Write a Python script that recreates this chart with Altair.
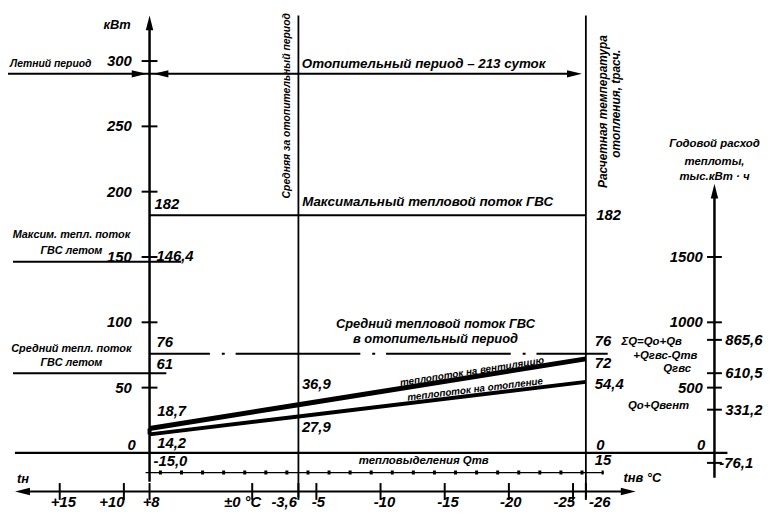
import altair as alt
import pandas as pd

FONT = "Liberation Sans"

# ---------------- scales ----------------
T_DOMAIN = [-40.27, 19.03]   # outdoor temperature, °C (axis runs right-to-left)
Q_DOMAIN = [-43.2, 338.6]    # heat flow, kW
A_DOMAIN = [-432, 3386]      # annual heat consumption, thousand kWh

# ---------------- heat-flow lines ----------------
line_temps = [8, -3.6, -26]
q_heat_vent = [18.7, 36.9, 72]     # heating + ventilation
q_heating = [14.2, 27.9, 54.4]     # heating only

# ---------------- horizontal levels ----------------
axis_h_x1 = [18.49, 17.9]
axis_h_x2 = [-37.03, -29.3]
axis_h_y = [0, -29.5]

solid_h_x1 = [19.03, 8, 18.64, 18.64]
solid_h_x2 = [-25.1, -26, 5.53, 6.69]
solid_h_y = [290.2, 182, 146.4, 61]

dhw_avg_x = [8, -27.7]
dhw_avg_y = 76
emission_x = [8.31, -27.39]
emission_y = -15.0

# ---------------- vertical lines ----------------
vert_x = [-3.6, -26]
vert_y1 = [-34, -34]
vert_y2 = [334.8, 334.8]
kw_axis_x = 8
kw_axis_y = [-22, 329.2]
annual_axis_x = -36.02
annual_axis_y = [-189, 2004]

# ---------------- arrowheads ----------------
arrow_x = [8.81, 7.11, -25.11, 8, 17.9, -29.3, -36.02]
arrow_y = [290.2, 290.2, 290.2, 329.2, -29.5, -29.5, 200.4]
arrow_dir = ["right", "left", "right", "up", "left", "right", "up"]

# ---------------- ticks ----------------
kw_ticks = [50, 100, 150, 200, 250, 300]
kw_tick_labels = ["50", "100", "150", "200", "250", "300"]
t_ticks = [15, 10, 8, 0, -3.6, -5, -10, -15, -20, -25, -26]
t_labels = ["+15", "+10", "+8", "±0 °C", "-3,6", "-5", "-10", "-15", "-20", "-25", "-26"]
t_label_x = [14.71, 10.93, 7.88, 0.75, -2.49, -5.15, -10.31, -15.25, -20.14, -24.31, -27.08]
annual_ticks = [1500, 1000, 865.6, 610.5, 500, 331.2, -76.1]
annual_left_labels = ["1500", "1000", "500", "0"]
annual_left_vals = [1500, 1000, 500, 60]
annual_left_x = [-35.1, -35.1, -35.1, -35.3]
annual_right_labels = ["865,6", "610,5", "331,2", "-76,1"]
annual_right_vals = [865.6, 610.5, 331.2, -76.1]
annual_right_x = [-36.87, -36.87, -36.87, -36.4]

# ---------------- value labels ----------------
num_labels = ["182", "146,4", "76", "61", "18,7", "14,2", "-15,0", "36,9", "27,9",
              "182", "76", "72", "54,4", "0", "15"]
num_x = [7.61, 7.46, 7.46, 7.46, 7.4, 7.4, 7.69, -3.87, -3.87,
         -26.8, -26.7, -26.7, -26.7, -26.8, -26.7]
num_y = [190.9, 150.8, 84.8, 68.2, 31.8, 7.6, -6.1, 53, 19.7,
         181.8, 85.6, 68.9, 53, 6, -5.3]

# ---------------- captions ----------------
cap14 = [("Отопительный период  –  213 суток", -13.36, 297.7),
         ("Максимальный тепловой поток ГВС", -13.67, 192.4)]
cap13 = [("Средний тепловой поток ГВС", -14.28, 98.5),
         ("в отопительный период", -14.28, 87.1)]
cap11 = [("Максим. тепл. поток", 14.09, 166.7), ("ГВС летом", 14.09, 154.5),
         ("Средний тепл. поток", 14.09, 79.5), ("ГВС летом", 14.09, 68.9)]
cap_summer = [("Летний период", 18.87, 297.7)]
cap_unit = [("кВт", 9.46, 327.3)]
cap_emission = [("тепловыделения Qтв", -13.36, -6.1)]
cap_t = [("tн", 18.33, -19.7), ("tнв  °C", -28.93, -18.9)]
cap_annual = [("Годовой расход", -36.02, 236.4), ("теплоты,", -36.02, 222.7),
              ("тыс.кВт · ч", -36.02, 211.4)]
cap_formula_left = [("ΣQ=Qо+Qв", -28.78, 84.8), ("+Qгвс-Qтв", -29.7, 74.2)]
cap_formula_right = [("Qгвс", -34.2, 64.4), ("Qо+Qвент", -34.05, 35.6)]
cap_rot_mid = [("Средняя за отопительный период", -2.68, 265.8)]
cap_rot_right = [("Расчетная температура", -27.32, 261.4), ("отопления, tрасч.", -28.32, 267.4)]
cap_vent = [("теплопоток на вентиляцию", -17.13, 62.2)]
cap_heat = [("теплопоток на отопление", -17.37, 48.6)]

# =================================================================
XS = alt.Scale(domain=T_DOMAIN, reverse=True, nice=False, zero=False)
QS = alt.Scale(domain=Q_DOMAIN, nice=False, zero=False)
AS = alt.Scale(domain=A_DOMAIN, nice=False, zero=False)


def X(f="x"):
    return alt.X(f"{f}:Q", scale=XS, axis=None)


def Y(f="y", scale=QS):
    return alt.Y(f"{f}:Q", scale=scale, axis=None)


def rules_h(x1, x2, y, width, dash=None, dash_offset=None):
    df = pd.DataFrame({"x": x1, "x2": x2, "y": y})
    kw = dict(color="black", strokeWidth=width)
    if dash is not None:
        kw["strokeDash"] = dash
    if dash_offset is not None:
        kw["strokeDashOffset"] = dash_offset
    return alt.Chart(df).mark_rule(**kw).encode(x=X(), x2="x2:Q", y=Y())


def rules_v(x, y1, y2, width, scale=QS):
    df = pd.DataFrame({"x": x, "y": y1, "y2": y2})
    return alt.Chart(df).mark_rule(color="black", strokeWidth=width).encode(
        x=X(), y=Y(scale=scale), y2="y2:Q")


def txt(rows, size, align="left", baseline="middle", angle=0, weight="bold", scale=QS):
    df = pd.DataFrame(rows, columns=["label", "x", "y"])
    return alt.Chart(df).mark_text(
        font=FONT, fontSize=size, fontStyle="italic", fontWeight=weight,
        align=align, baseline=baseline, angle=angle, color="black"
    ).encode(x=X(), y=Y(scale=scale), text="label:N")


layers = []

# axes lines
layers.append(rules_h(axis_h_x1, axis_h_x2, axis_h_y, 2.2))
layers.append(rules_h(solid_h_x1, solid_h_x2, solid_h_y, 2))
layers.append(rules_h([dhw_avg_x[0]], [dhw_avg_x[1]], [dhw_avg_y], 2,
                      dash=[61, 12, 3, 11, 126, 12, 3, 11, 126, 12, 3, 11, 126, 12, 3, 11, 300]))
layers.append(rules_h([emission_x[0]], [emission_x[1]], [emission_y], 1.2))
layers.append(rules_h([emission_x[0]], [emission_x[1]], [emission_y], 4,
                      dash=[3, 18.3], dash_offset=7.8))
layers.append(rules_v(vert_x, vert_y1, vert_y2, 1.8))
layers.append(rules_v([kw_axis_x], [kw_axis_y[0]], [kw_axis_y[1]], 2.5))
layers.append(rules_v([annual_axis_x], [annual_axis_y[0]], [annual_axis_y[1]], 2.5, scale=AS))
layers.append(rules_v([line_temps[0]], [q_heating[0]], [q_heat_vent[0]], 4))

# heat-flow lines
for vals, w in ((q_heat_vent, 5), (q_heating, 4)):
    df = pd.DataFrame({"x": line_temps, "y": vals})
    layers.append(alt.Chart(df).mark_line(color="black", strokeWidth=w, strokeCap="butt").encode(
        x=X(), y=Y()))

# arrowheads
arrow_df = pd.DataFrame({"x": arrow_x, "y": arrow_y, "dir": arrow_dir})
layers.append(alt.Chart(arrow_df).mark_point(filled=True, size=225, color="black", opacity=1,
                                             strokeWidth=0).encode(
    x=X(), y=Y(),
    shape=alt.Shape("dir:N", legend=None, scale=alt.Scale(
        domain=["right", "left", "up"],
        range=["M1,0L-1,-0.5L-1,0.5Z", "M-1,0L1,-0.5L1,0.5Z", "M0,-1L-0.5,1L0.5,1Z"]))))

# ticks
layers.append(alt.Chart(pd.DataFrame({"x": [kw_axis_x] * len(kw_ticks), "y": kw_ticks}))
              .mark_tick(orient="horizontal", size=16, thickness=2, color="black", opacity=1)
              .encode(x=X(), y=Y()))
layers.append(alt.Chart(pd.DataFrame({"x": t_ticks, "y": [axis_h_y[1]] * len(t_ticks)}))
              .mark_tick(orient="vertical", size=17, thickness=2, color="black", opacity=1)
              .encode(x=X(), y=Y()))
layers.append(alt.Chart(pd.DataFrame({"x": [annual_axis_x] * len(annual_ticks), "y": annual_ticks}))
              .mark_tick(orient="horizontal", size=15, thickness=2, color="black", opacity=1)
              .encode(x=X(), y=Y(scale=AS)))

# tick labels
layers.append(txt(list(zip(kw_tick_labels, [9.39] * len(kw_ticks), kw_ticks)) + [("0", 9.08, 6)],
                  15, align="right"))
layers.append(txt(list(zip(t_labels, t_label_x, [-41.7] * len(t_labels))),
                  15, align="center", baseline="alphabetic"))
layers.append(txt(list(zip(annual_left_labels, annual_left_x, annual_left_vals)),
                  15, align="right", scale=AS))
layers.append(txt(list(zip(annual_right_labels, annual_right_x, annual_right_vals)),
                  15, align="left", scale=AS))
layers.append(txt(list(zip(num_labels, num_x, num_y)), 15, align="left"))

# captions
layers.append(txt(cap14, 13.5, align="center"))
layers.append(txt(cap13, 13, align="center"))
layers.append(txt(cap11, 11, align="center"))
layers.append(txt(cap_summer, 10.5, align="left"))
layers.append(txt(cap_unit, 13, align="right"))
layers.append(txt(cap_emission, 11.5, align="center"))
layers.append(txt(cap_t, 13, align="left"))
layers.append(txt(cap_annual, 11.5, align="center"))
layers.append(txt(cap_formula_left, 11.5, align="left"))
layers.append(txt(cap_formula_right, 11.5, align="right"))
layers.append(txt(cap_rot_mid, 10.5, align="center", angle=270))
layers.append(txt(cap_rot_right, 12, align="center", angle=270))
layers.append(txt(cap_vent, 10, align="center", angle=351))
layers.append(txt(cap_heat, 10, align="center", angle=353))

chart = alt.layer(*layers).resolve_scale(y="independent").properties(
    width=769, height=504, padding=0,
    autosize=alt.AutoSizeParams(type="none"),
    background="white",
).configure_view(stroke=None)

chart.save("out.html", embed_options={"renderer": "svg", "actions": False})
